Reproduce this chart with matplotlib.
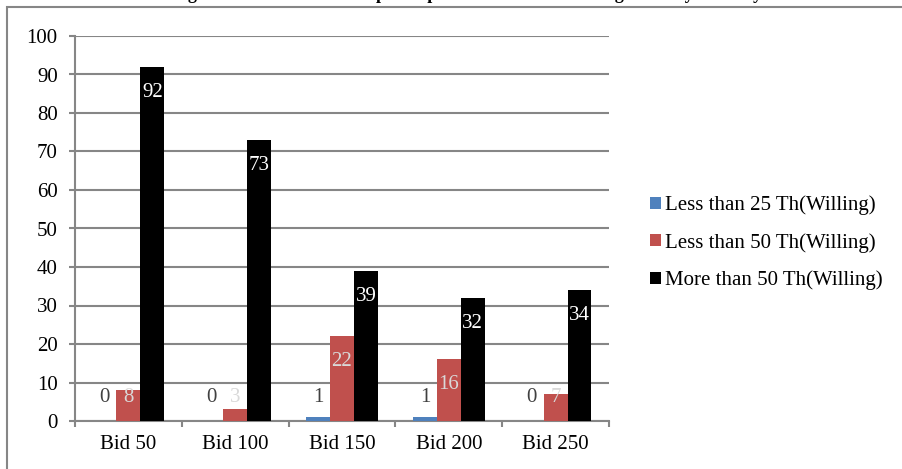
import numpy as np
import matplotlib
matplotlib.use("Agg")
import matplotlib.pyplot as plt
from matplotlib.patches import Rectangle

plt.rcParams['font.family'] = ['Liberation Serif', 'DejaVu Serif']

# data
bids = ['Bid 50', 'Bid 100', 'Bid 150', 'Bid 200', 'Bid 250']
less25 = [0, 0, 1, 1, 0]
less50 = [8, 3, 22, 16, 7]
more50 = [92, 73, 39, 32, 34]
series_names = ['Less than 25 Th(Willing)', 'Less than 50 Th(Willing)', 'More than 50 Th(Willing)']
title = 'Willingness of the interviewed participants at different bidding levels by monthly'

colors = ['#4f81bd', '#c0504d', '#000000']
label_colors = ['#404040', '#d9d9d9', '#ffffff']
grid_col = '#868686'
fs = 15

fig = plt.figure(figsize=(9.03, 4.69), dpi=100)
W, H = 903, 469

# outer chart frame (runs off right / bottom)
fig.patches.append(Rectangle((7 / W, -0.1), 1.2, 1 - 7 / H + 0.1, transform=fig.transFigure,
                             fill=False, edgecolor=grid_col, linewidth=1.5))

# title, cut off at top of image
fig.text(0.5, 1 + 1.0 / H, title, ha='center', va='baseline', fontsize=13, fontweight='bold')

ax = fig.add_axes([75 / W, (H - 421) / H, (609 - 75) / W, (421 - 36) / H])

x = np.arange(len(bids))
bw = 0.224
data = [less25, less50, more50]
for i, vals in enumerate(data):
    xs = x + (i - 1) * bw
    ax.bar(xs, vals, width=bw, color=colors[i], label=series_names[i], zorder=3)
    for xi, v in zip(xs, vals):
        ly = max(v - 6.6, 6.2)
        ax.text(xi, ly, str(v), ha='center', va='center', fontsize=fs,
                color=label_colors[i], zorder=4)

ax.set_xlim(-0.5, len(bids) - 0.5)
ax.set_ylim(0, 100)
ax.set_yticks(range(0, 101, 10))
ax.set_xticks(np.arange(-0.5, len(bids), 1.0))
ax.set_xticklabels([])
ax.set_xticks(x, minor=True)
ax.set_xticklabels(bids, minor=True)
ax.tick_params(axis='x', which='major', direction='out', length=4.5, color=grid_col, width=1.5)
ax.tick_params(axis='x', which='minor', length=0, pad=10, labelsize=fs)
ax.tick_params(axis='y', direction='out', length=4.5, color=grid_col, width=1.5, labelsize=fs, pad=8)
ax.yaxis.grid(True, color=grid_col, linewidth=1.5, zorder=0)
for s in ['top', 'right']:
    ax.spines[s].set_visible(False)
for s in ['left', 'bottom']:
    ax.spines[s].set_color(grid_col)
    ax.spines[s].set_linewidth(1.5)

ax.legend(loc='center left', bbox_to_anchor=(1.062, 0.463), frameon=False, fontsize=fs,
          handlelength=0.5, handleheight=0.5, handletextpad=0.2, labelspacing=0.85,
          borderaxespad=0)

fig.savefig('out.png', dpi=100)
